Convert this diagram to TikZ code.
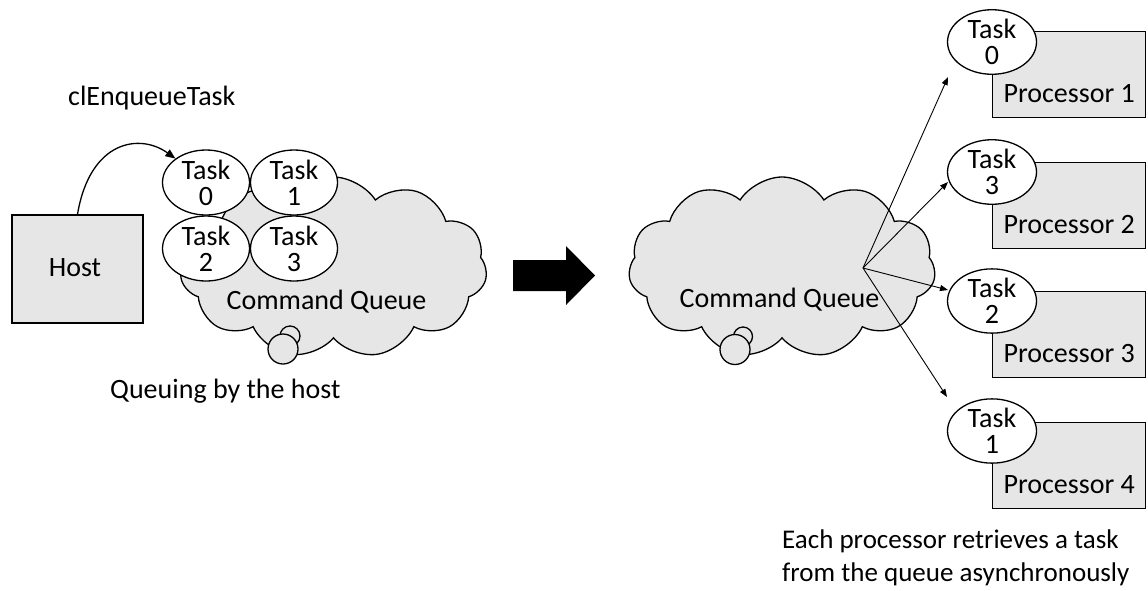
\documentclass[tikz,border=0pt]{standalone}
\usepackage{fontspec}
\setmainfont{Carlito}
\usetikzlibrary{shapes.symbols,shapes.geometric,arrows.meta}
\definecolor{fillgray}{RGB}{230,230,230}
\begin{document}
\begin{tikzpicture}[x=1pt,y=1pt,
  lbl/.style={font=\fontsize{28}{26}\selectfont, inner sep=0pt},
  taskell/.style={ellipse, draw, line width=1.3pt, fill=white, inner sep=0pt,
    minimum width=87pt, minimum height=65pt, align=center,
    font=\fontsize{28}{26}\selectfont},
  graybox/.style={rectangle, draw, line width=1.3pt, fill=fillgray, inner sep=0pt},
  cq/.style={cloud, cloud puffs=11, cloud puff arc=115, draw, line width=1.3pt,
    fill=fillgray, minimum width=307pt, minimum height=181pt, aspect=1.7, inner sep=0pt},
  bub/.style={circle, draw, line width=1.3pt, fill=fillgray, inner sep=0pt},
  fanarrow/.style={line width=0.9pt, -{Triangle[length=8pt,width=6pt]}}
]
\useasboundingbox (0,0) rectangle (1148,-590);

% ---------- left part ----------
\node[graybox, minimum width=131pt, minimum height=108pt] (host) at (77.5,-269) {};
\node[lbl] (hostlbl) at (75,-268) {Host};

\node[cq] (cloudL) at (333.5,-267.5) {};
\node[bub, minimum size=20pt] (bsL) at (290,-336) {};
\node[bub, minimum size=30pt] (bbL) at (283,-349) {};
\node[lbl] (cqL) at (326.5,-302) {Command Queue};

\node[taskell] (lt0) at (206,-182.5) {Task\\0};
\node[taskell] (lt1) at (294,-182.5) {Task\\1};
\node[taskell] (lt2) at (206,-248.5) {Task\\2};
\node[taskell] (lt3) at (294,-248.5) {Task\\3};

\node[lbl, anchor=west] (enq) at (68,-98) {clEnqueueTask};
\draw[line width=1.3pt, -{Triangle[length=10pt,width=8pt]}]
  (host.north) .. controls (90,-140) and (140,-133) .. (lt0.142);

\node[lbl, anchor=west] (qbh) at (110,-391) {Queuing by the host};

% ---------- big arrow ----------
\fill (513,-260) -- (566,-260) -- (566,-246) -- (595,-275.5) -- (566,-305)
  -- (566,-291) -- (513,-291) -- cycle;

% ---------- right part ----------
\node[cq] (cloudR) at (782,-267.5) {};
\node[bub, minimum size=19pt] (bsR) at (743,-336.5) {};
\node[bub, minimum size=30pt] (bbR) at (735,-349.5) {};
\node[lbl] (cqR) at (779.5,-300) {Command Queue};

\foreach \i/\t/\yb in {1/0/31, 2/3/162, 3/2/291, 4/1/422}{
  \node[graybox, anchor=north west, minimum width=153pt, minimum height=86pt]
    (p\i) at (992,-\yb) {};
  \node[lbl] (pl\i) at ([yshift=25pt]p\i.south) {Processor \i};
}
\node[taskell, minimum width=89pt, minimum height=64pt] (r0) at (992,-42) {Task\\0};
\node[taskell, minimum width=89pt, minimum height=64pt] (r3) at (992,-172) {Task\\3};
\node[taskell, minimum width=89pt, minimum height=64pt] (r2) at (992,-301) {Task\\2};
\node[taskell, minimum width=89pt, minimum height=64pt] (r1) at (992,-431) {Task\\1};

\coordinate (fan) at (863,-268);
\coordinate (e0) at (948,-77);
\coordinate (e3) at (948,-182);
\coordinate (e2) at (948,-290);
\coordinate (e1) at (947,-397);
\draw[fanarrow] (fan) -- (e0);
\draw[fanarrow] (fan) -- (e3);
\draw[fanarrow] (fan) -- (e2);
\draw[fanarrow] (fan) -- (e1);

\node[lbl, anchor=west, align=left, font=\fontsize{27}{33}\selectfont] (note) at (782,-558)
  {Each processor retrieves a task\\from the queue asynchronously};
\end{tikzpicture}
\end{document}
